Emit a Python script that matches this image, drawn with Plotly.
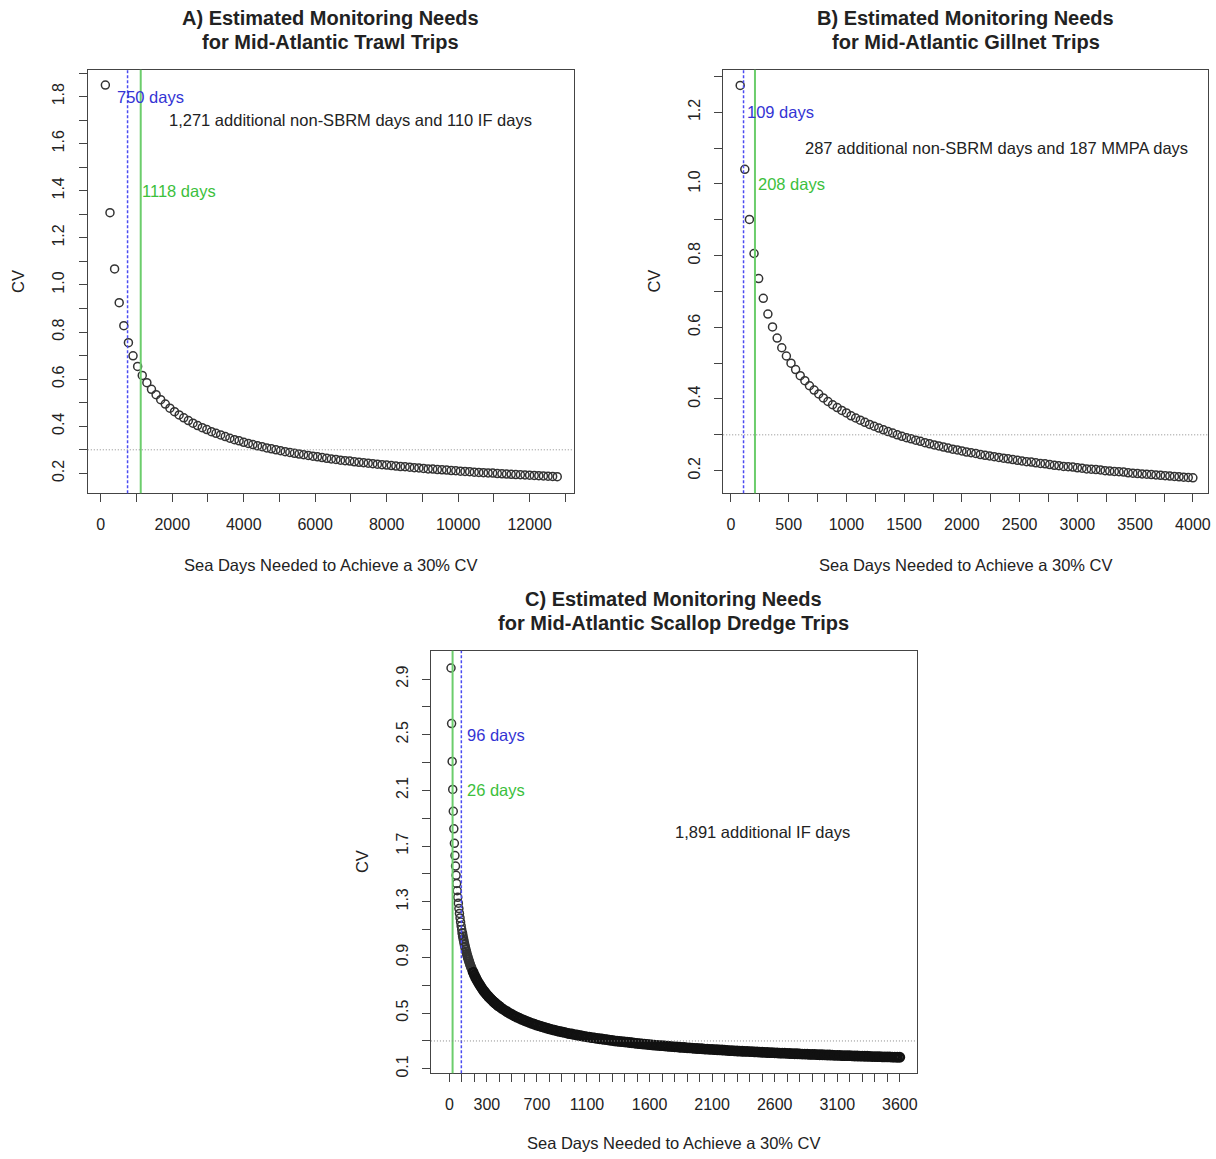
import plotly.graph_objects as go

W, H = 1216, 1159

# A) Mid-Atlantic trawl trips: sea days vs CV
trawl_days = [
    129, 258, 387, 516, 645, 774, 903, 1032, 1161, 1290,
    1419, 1548, 1677, 1806, 1935, 2064, 2193, 2322, 2451, 2580,
    2709, 2838, 2967, 3096, 3225, 3354, 3483, 3612, 3741, 3870,
    3999, 4128, 4257, 4386, 4515, 4644, 4773, 4902, 5031, 5160,
    5289, 5418, 5547, 5676, 5805, 5934, 6063, 6192, 6321, 6450,
    6579, 6708, 6837, 6966, 7095, 7224, 7353, 7482, 7611, 7740,
    7869, 7998, 8127, 8256, 8385, 8514, 8643, 8772, 8901, 9030,
    9159, 9288, 9417, 9546, 9675, 9804, 9933, 10062, 10191, 10320,
    10449, 10578, 10707, 10836, 10965, 11094, 11223, 11352, 11481, 11610,
    11739, 11868, 11997, 12126, 12255, 12384, 12513, 12642, 12771]
trawl_cv = [
    1.849, 1.307, 1.068, 0.925, 0.827, 0.755, 0.699, 0.654, 0.616, 0.585,
    0.557, 0.534, 0.513, 0.494, 0.477, 0.462, 0.448, 0.436, 0.424, 0.413,
    0.403, 0.394, 0.386, 0.377, 0.370, 0.363, 0.356, 0.349, 0.343, 0.338,
    0.332, 0.327, 0.322, 0.317, 0.313, 0.308, 0.304, 0.300, 0.296, 0.292,
    0.289, 0.285, 0.282, 0.279, 0.276, 0.273, 0.270, 0.267, 0.264, 0.261,
    0.259, 0.256, 0.254, 0.252, 0.249, 0.247, 0.245, 0.243, 0.241, 0.239,
    0.237, 0.235, 0.233, 0.231, 0.229, 0.228, 0.226, 0.224, 0.223, 0.221,
    0.219, 0.218, 0.216, 0.215, 0.214, 0.212, 0.211, 0.209, 0.208, 0.207,
    0.205, 0.204, 0.203, 0.202, 0.201, 0.199, 0.198, 0.197, 0.196, 0.195,
    0.194, 0.193, 0.192, 0.191, 0.190, 0.189, 0.188, 0.187, 0.186]
trawl_blue_days = 750
trawl_green_days = 1118

# B) Mid-Atlantic gillnet trips
gillnet_days = [
    80, 120, 160, 200, 240, 280, 320, 360, 400, 440,
    480, 520, 560, 600, 640, 680, 720, 760, 800, 840,
    880, 920, 960, 1000, 1040, 1080, 1120, 1160, 1200, 1240,
    1280, 1320, 1360, 1400, 1440, 1480, 1520, 1560, 1600, 1640,
    1680, 1720, 1760, 1800, 1840, 1880, 1920, 1960, 2000, 2040,
    2080, 2120, 2160, 2200, 2240, 2280, 2320, 2360, 2400, 2440,
    2480, 2520, 2560, 2600, 2640, 2680, 2720, 2760, 2800, 2840,
    2880, 2920, 2960, 3000, 3040, 3080, 3120, 3160, 3200, 3240,
    3280, 3320, 3360, 3400, 3440, 3480, 3520, 3560, 3600, 3640,
    3680, 3720, 3760, 3800, 3840, 3880, 3920, 3960, 4000]
gillnet_cv = [
    1.275, 1.041, 0.901, 0.806, 0.736, 0.681, 0.637, 0.601, 0.570, 0.543,
    0.520, 0.500, 0.482, 0.465, 0.451, 0.437, 0.425, 0.414, 0.403, 0.393,
    0.384, 0.376, 0.368, 0.361, 0.353, 0.347, 0.341, 0.335, 0.329, 0.324,
    0.319, 0.314, 0.309, 0.305, 0.300, 0.296, 0.292, 0.289, 0.285, 0.282,
    0.278, 0.275, 0.272, 0.269, 0.266, 0.263, 0.260, 0.258, 0.255, 0.252,
    0.250, 0.248, 0.245, 0.243, 0.241, 0.239, 0.237, 0.235, 0.233, 0.231,
    0.229, 0.227, 0.225, 0.224, 0.222, 0.220, 0.219, 0.217, 0.215, 0.214,
    0.212, 0.211, 0.210, 0.208, 0.207, 0.205, 0.204, 0.203, 0.202, 0.200,
    0.199, 0.198, 0.197, 0.196, 0.194, 0.193, 0.192, 0.191, 0.190, 0.189,
    0.188, 0.187, 0.186, 0.185, 0.184, 0.183, 0.182, 0.181, 0.180]
gillnet_blue_days = 109
gillnet_green_days = 208

# C) Mid-Atlantic scallop dredge trips
dredge_days = [
    13.5, 18, 22.5, 27, 31.5, 36, 40.5, 45, 49.5, 54,
    58.5, 63, 67.5, 72, 76.5, 81, 85.5, 90, 94.5, 99,
    103.5, 108, 112.5, 117, 121.5, 126, 130.5, 135, 139.5, 144,
    148.5, 153, 157.5, 162, 166.5, 171, 175.5, 180,
    190, 200, 210, 220, 230, 240, 250, 260, 270, 280,
    290, 300, 310, 320, 330, 340, 350, 360, 370, 380, 390, 400,
    420, 440, 460, 480, 500, 520, 540, 560, 580, 600,
    620, 640, 660, 680, 700, 720, 740, 760, 780, 800,
    820, 840, 860, 880, 900, 920, 940, 960, 980, 1000,
    1020, 1040, 1060, 1080, 1100, 1120, 1140, 1160, 1180, 1200,
    1220, 1240, 1260, 1280, 1300, 1320, 1340, 1360, 1380, 1400,
    1420, 1440, 1460, 1480, 1500, 1520, 1540, 1560, 1580, 1600,
    1620, 1640, 1660, 1680, 1700, 1720, 1740, 1760, 1780, 1800,
    1820, 1840, 1860, 1880, 1900, 1920, 1940, 1960, 1980, 2000,
    2020, 2040, 2060, 2080, 2100, 2120, 2140, 2160, 2180, 2200,
    2220, 2240, 2260, 2280, 2300, 2320, 2340, 2360, 2380, 2400,
    2420, 2440, 2460, 2480, 2500, 2520, 2540, 2560, 2580, 2600,
    2620, 2640, 2660, 2680, 2700, 2720, 2740, 2760, 2780, 2800,
    2820, 2840, 2860, 2880, 2900, 2920, 2940, 2960, 2980, 3000,
    3020, 3040, 3060, 3080, 3100, 3120, 3140, 3160, 3180, 3200,
    3220, 3240, 3260, 3280, 3300, 3320, 3340, 3360, 3380, 3400,
    3420, 3440, 3460, 3480, 3500, 3520, 3540, 3560, 3580, 3600]
dredge_cv = [
    2.979, 2.580, 2.308, 2.107, 1.950, 1.824, 1.720, 1.632, 1.556, 1.490,
    1.431, 1.379, 1.332, 1.290, 1.251, 1.216, 1.184, 1.154, 1.126, 1.100,
    1.076, 1.053, 1.032, 1.012, 0.993, 0.975, 0.958, 0.942, 0.927, 0.912,
    0.898, 0.885, 0.872, 0.860, 0.848, 0.837, 0.826, 0.816,
    0.794, 0.774, 0.756, 0.738, 0.722, 0.707, 0.693, 0.679, 0.666, 0.654,
    0.643, 0.632, 0.622, 0.612, 0.603, 0.594, 0.585, 0.577, 0.569, 0.562, 0.554, 0.548,
    0.534, 0.522, 0.511, 0.500, 0.490, 0.480, 0.471, 0.463, 0.455, 0.447,
    0.440, 0.433, 0.426, 0.420, 0.414, 0.408, 0.403, 0.397, 0.392, 0.387,
    0.382, 0.378, 0.373, 0.369, 0.365, 0.361, 0.357, 0.353, 0.350, 0.346,
    0.343, 0.340, 0.336, 0.333, 0.330, 0.327, 0.324, 0.322, 0.319, 0.316,
    0.314, 0.311, 0.309, 0.306, 0.304, 0.301, 0.299, 0.297, 0.295, 0.293,
    0.291, 0.289, 0.287, 0.285, 0.283, 0.281, 0.279, 0.277, 0.276, 0.274,
    0.272, 0.270, 0.269, 0.267, 0.266, 0.264, 0.263, 0.261, 0.260, 0.258,
    0.257, 0.255, 0.254, 0.253, 0.251, 0.250, 0.249, 0.247, 0.246, 0.245,
    0.244, 0.242, 0.241, 0.240, 0.239, 0.238, 0.237, 0.236, 0.235, 0.234,
    0.232, 0.231, 0.230, 0.229, 0.228, 0.227, 0.226, 0.225, 0.225, 0.224,
    0.223, 0.222, 0.221, 0.220, 0.219, 0.218, 0.217, 0.216, 0.216, 0.215,
    0.214, 0.213, 0.212, 0.212, 0.211, 0.210, 0.209, 0.208, 0.208, 0.207,
    0.206, 0.206, 0.205, 0.204, 0.203, 0.203, 0.202, 0.201, 0.201, 0.200,
    0.199, 0.199, 0.198, 0.197, 0.197, 0.196, 0.195, 0.195, 0.194, 0.194,
    0.193, 0.192, 0.192, 0.191, 0.191, 0.190, 0.190, 0.189, 0.188, 0.188,
    0.187, 0.187, 0.186, 0.186, 0.185, 0.185, 0.184, 0.184, 0.183, 0.183]
dredge_blue_days = 96
dredge_green_days = 26

cv_target = 0.3

# ticks
trawl_xticks = [0, 1000, 2000, 3000, 4000, 5000, 6000, 7000, 8000, 9000, 10000, 11000, 12000, 13000]
trawl_xlabels = ["0", "", "2000", "", "4000", "", "6000", "", "8000", "", "10000", "", "12000", ""]
trawl_yticks = [0.2, 0.3, 0.4, 0.5, 0.6, 0.7, 0.8, 0.9, 1.0, 1.1, 1.2, 1.3, 1.4, 1.5, 1.6, 1.7, 1.8, 1.9]
trawl_ylabels = ["0.2", "", "0.4", "", "0.6", "", "0.8", "", "1.0", "", "1.2", "", "1.4", "", "1.6", "", "1.8", ""]

gillnet_xticks = [0, 250, 500, 750, 1000, 1250, 1500, 1750, 2000, 2250, 2500, 2750, 3000, 3250, 3500, 3750, 4000]
gillnet_xlabels = ["0", "", "500", "", "1000", "", "1500", "", "2000", "", "2500", "", "3000", "", "3500", "", "4000"]
gillnet_yticks = [0.2, 0.3, 0.4, 0.5, 0.6, 0.7, 0.8, 0.9, 1.0, 1.1, 1.2, 1.3]
gillnet_ylabels = ["0.2", "", "0.4", "", "0.6", "", "0.8", "", "1.0", "", "1.2", ""]

dredge_xticks = [0, 100, 200, 300, 400, 500, 600, 700, 800, 900, 1000, 1100, 1200, 1300, 1400, 1500, 1600, 1700,
                 1800, 1900, 2000, 2100, 2200, 2300, 2400, 2500, 2600, 2700, 2800, 2900, 3000, 3100, 3200, 3300,
                 3400, 3500, 3600]
dredge_xlabels_shown = ["0", "300", "700", "1100", "1600", "2100", "2600", "3100", "3600"]
dredge_yticks = [0.1, 0.3, 0.5, 0.7, 0.9, 1.1, 1.3, 1.5, 1.7, 1.9, 2.1, 2.3, 2.5, 2.7, 2.9]
dredge_ylabels = ["0.1", "", "0.5", "", "0.9", "", "1.3", "", "1.7", "", "2.1", "", "2.5", "", "2.9"]

FONT = "Liberation Sans, Arial, sans-serif"
TXT = "#222222"
BLUE_TXT = "#3434d4"
GREEN_TXT = "#3cc03c"
BLUE_LINE = "#4b4bf2"
GREEN_LINE = "#6ccd6c"
PT = "#333333"


def px_x(p):
    return p / W


def px_y(p):
    return 1 - p / H


panels = [
    # box (l, r, t, b) in px of the page, axis ranges like R's 4% padding
    dict(days=trawl_days, cv=trawl_cv, blue=trawl_blue_days, green=trawl_green_days,
         box=(88, 575, 70, 495), xr=[-363, 13228], yr=[0.1153, 1.914],
         xt=trawl_xticks, xl=trawl_xlabels, yt=trawl_yticks, yl=trawl_ylabels),
    dict(days=gillnet_days, cv=gillnet_cv, blue=gillnet_blue_days, green=gillnet_green_days,
         box=(725, 1211, 70, 495), xr=[-67, 4131], yr=[0.1369, 1.3187],
         xt=gillnet_xticks, xl=gillnet_xlabels, yt=gillnet_yticks, yl=gillnet_ylabels),
    dict(days=dredge_days, cv=dredge_cv, blue=dredge_blue_days, green=dredge_green_days,
         box=(432, 919, 653, 1077), xr=[-147, 3735], yr=[0.0678, 3.103],
         xt=dredge_xticks, xl=[str(v) if str(v) in dredge_xlabels_shown else "" for v in dredge_xticks],
         yt=dredge_yticks, yl=dredge_ylabels),
]


def ring_width(panel_no, d):
    # in panel C the overlapping circles of the long tail merge into a solid black band
    if panel_no < 3 or d <= 100:
        return 1.5
    if d <= 180:
        return 2.0
    return 2.8


fig = go.Figure()
layout = dict(width=W, height=H, margin=dict(l=0, r=0, t=0, b=0),
              paper_bgcolor="white", plot_bgcolor="white", showlegend=False,
              font=dict(family=FONT, size=16, color=TXT))
shapes = []

for i, p in enumerate(panels, start=1):
    sx = "" if i == 1 else str(i)
    xa, ya = "x" + sx, "y" + sx
    l, r, t, b = p["box"]
    widths = [ring_width(i, d) for d in p["days"]]
    colors = [PT if w < 2.8 else "#111111" for w in widths]
    fig.add_trace(go.Scatter(
        x=p["days"], y=p["cv"], mode="markers", xaxis=xa, yaxis=ya,
        marker=dict(symbol="circle-open", size=8, color=colors, line=dict(width=widths, color=colors)),
        hoverinfo="x+y"))
    axis_common = dict(showgrid=False, zeroline=False, showline=True, mirror=True,
                       linecolor="#444444", linewidth=1, ticks="outside", ticklen=8,
                       tickcolor="#444444", tickfont=dict(size=16, color=TXT, family=FONT))
    layout["xaxis" + sx] = dict(axis_common, domain=[px_x(l), px_x(r)], range=p["xr"],
                                anchor=ya, tickmode="array", tickvals=p["xt"], ticktext=p["xl"],
                                ticklabelstandoff=9)
    layout["yaxis" + sx] = dict(axis_common, domain=[px_y(b), px_y(t)], range=p["yr"],
                                anchor=xa, tickmode="array", tickvals=p["yt"], ticktext=p["yl"],
                                tickangle=-90, ticklabelstandoff=8)
    # reference lines
    shapes.append(dict(type="line", xref=xa, yref=ya + " domain", x0=p["green"], x1=p["green"], y0=0, y1=1,
                       line=dict(color=GREEN_LINE, width=2)))
    shapes.append(dict(type="line", xref=xa, yref=ya + " domain", x0=p["blue"], x1=p["blue"], y0=0, y1=1,
                       line=dict(color=BLUE_LINE, width=1.5, dash="3px,2px")))
    shapes.append(dict(type="line", xref=xa + " domain", yref=ya, x0=0, x1=1, y0=cv_target, y1=cv_target,
                       line=dict(color="#8a8a8a", width=1, dash="1px,2px")))

layout["shapes"] = shapes

ann = []


def add_text(x, y, text, **kw):
    d = dict(x=x, y=y, text=text, showarrow=False, font=dict(family=FONT, size=16.5, color=TXT))
    d.update(kw)
    ann.append(d)


# titles
titles = [
    (331.5, "A) Estimated Monitoring Needs", "for Mid-Atlantic Trawl Trips", 18, 42.5),
    (968, "B) Estimated Monitoring Needs", "for Mid-Atlantic Gillnet Trips", 18, 42.5),
    (675.5, "C) Estimated Monitoring Needs", "for Mid-Atlantic Scallop Dredge Trips", 601, 625.5),
]
for cx, l1, l2, y1, y2 in titles:
    for txt, yy in ((l1, y1), (l2, y2)):
        add_text(px_x(cx), px_y(yy), "<b>" + txt + "</b>", xref="paper", yref="paper",
                 xanchor="center", yanchor="middle", font=dict(family=FONT, size=20, color=TXT))

# axis titles
for cx, cy, vx, vy in ((331.5, 566.5, 17.5, 282.5), (968, 566.5, 654.7, 282.5), (675.5, 1147, 363, 865)):
    add_text(px_x(cx), px_y(cy), "Sea Days Needed to Achieve a 30% CV", xref="paper", yref="paper",
             xanchor="center", yanchor="middle")
    add_text(px_x(vx), px_y(vy), "CV", xref="paper", yref="paper", textangle=-90,
             xanchor="center", yanchor="middle")

# in-plot labels
add_text(390, 1.8, "750 days", xref="x", yref="y", xanchor="left", yanchor="middle",
         font=dict(family=FONT, size=16.5, color=BLUE_TXT))
add_text(1088, 1.4, "1118 days", xref="x", yref="y", xanchor="left", yanchor="middle",
         font=dict(family=FONT, size=16.5, color=GREEN_TXT))
add_text(7000, 1.7, "1,271 additional non-SBRM days and 110 IF days", xref="x", yref="y",
         xanchor="center", yanchor="middle")

add_text(121, 1.2, "109 days", xref="x2", yref="y2", xanchor="left", yanchor="middle",
         font=dict(family=FONT, size=16.5, color=BLUE_TXT))
add_text(214, 1.0, "208 days", xref="x2", yref="y2", xanchor="left", yanchor="middle",
         font=dict(family=FONT, size=16.5, color=GREEN_TXT))
add_text(2300, 1.1, "287 additional non-SBRM days and 187 MMPA days", xref="x2", yref="y2",
         xanchor="center", yanchor="middle")

add_text(126, 2.5, "96 days", xref="x3", yref="y3", xanchor="left", yanchor="middle",
         font=dict(family=FONT, size=16.5, color=BLUE_TXT))
add_text(126, 2.1, "26 days", xref="x3", yref="y3", xanchor="left", yanchor="middle",
         font=dict(family=FONT, size=16.5, color=GREEN_TXT))
add_text(2500, 1.8, "1,891 additional IF days", xref="x3", yref="y3", xanchor="center", yanchor="middle")

layout["annotations"] = ann
fig.update_layout(**layout)

fig.write_html("out.html", config={"displayModeBar": False},
               post_script="document.body.style.margin='0';")
